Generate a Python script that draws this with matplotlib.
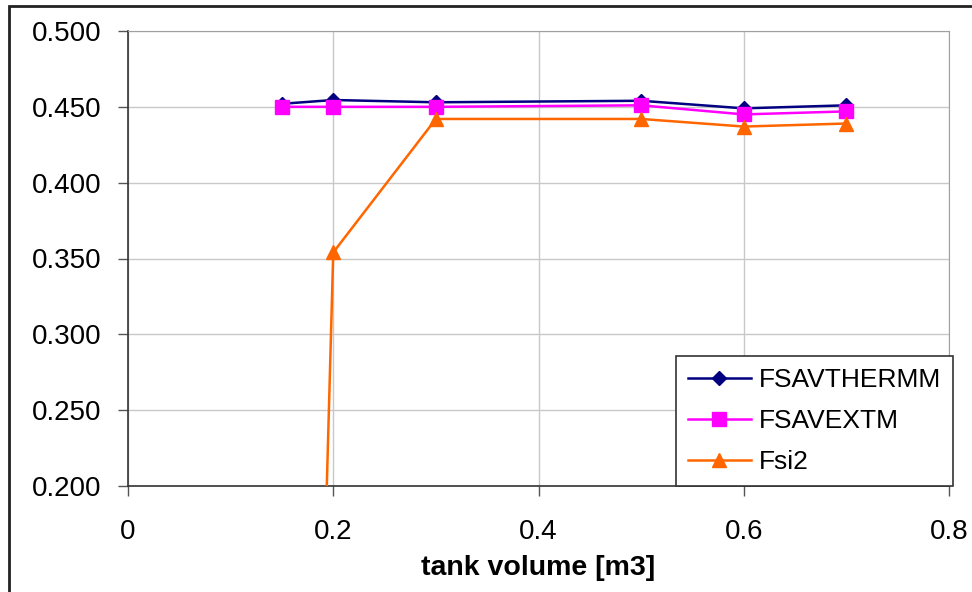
import matplotlib
matplotlib.use("Agg")
import matplotlib.pyplot as plt
from matplotlib.patches import Rectangle

plt.rcParams['font.family'] = ['Liberation Sans', 'DejaVu Sans']

x_vals = [0.15, 0.2, 0.3, 0.5, 0.6, 0.7]
fsavthermm = [0.452, 0.4545, 0.453, 0.454, 0.449, 0.451]
fsavextm = [0.450, 0.450, 0.450, 0.451, 0.445, 0.447]
fsi2 = [-0.87, 0.354, 0.442, 0.442, 0.437, 0.439]

x_ticks = [0, 0.2, 0.4, 0.6, 0.8]
x_tick_labels = ['0', '0.2', '0.4', '0.6', '0.8']
y_ticks = [0.200, 0.250, 0.300, 0.350, 0.400, 0.450, 0.500]
y_tick_labels = ['0.200', '0.250', '0.300', '0.350', '0.400', '0.450', '0.500']

fig = plt.figure(figsize=(9.72, 5.92), dpi=100)
ax = fig.add_axes([128/972, 1-486/592, (949-128)/972, (486-31)/592])

ax.plot(x_vals, fsavthermm, color='#000080', lw=1.8, marker='D', ms=7, label='FSAVTHERMM', zorder=3)
ax.plot(x_vals, fsavextm, color='#FF00FF', lw=1.8, marker='s', ms=10, label='FSAVEXTM', zorder=4)
ax.plot(x_vals, fsi2, color='#FF6600', lw=1.8, marker='^', ms=10, label='Fsi2', zorder=5)

ax.set_xlim(0, 0.8)
ax.set_ylim(0.2, 0.5)
ax.set_xticks(x_ticks)
ax.set_xticklabels(x_tick_labels)
ax.set_yticks(y_ticks)
ax.set_yticklabels(y_tick_labels)
ax.grid(True, color='#c8c8c8', lw=1)
ax.set_axisbelow(True)
for s in ['top', 'right']:
    ax.spines[s].set_color('#a0a0a0')
for s in ['left', 'bottom']:
    ax.spines[s].set_color('#333333')
    ax.spines[s].set_linewidth(1.2)
ax.tick_params(axis='both', labelsize=20, length=7, width=1, color='#555555', direction='out')
ax.tick_params(axis='y', pad=12)
ax.tick_params(axis='x', pad=17)
ax.set_xlabel('tank volume [m3]', fontsize=20.5, fontweight='bold', labelpad=7)

leg = ax.legend(loc='lower right', bbox_to_anchor=(1.005, 0.0), borderaxespad=0.0,
                fontsize=19, frameon=True,
                fancybox=False, edgecolor='#333333', framealpha=1, borderpad=0.45,
                handlelength=2.4, handletextpad=0.3, labelspacing=0.64)
leg.get_frame().set_linewidth(1.2)

fig.patches.append(Rectangle((8.5/972, -0.1), 1.2, 1 - 6/592 + 0.1, transform=fig.transFigure,
                             fill=False, edgecolor='#222222', lw=2))

fig.savefig('out.png', dpi=100)
